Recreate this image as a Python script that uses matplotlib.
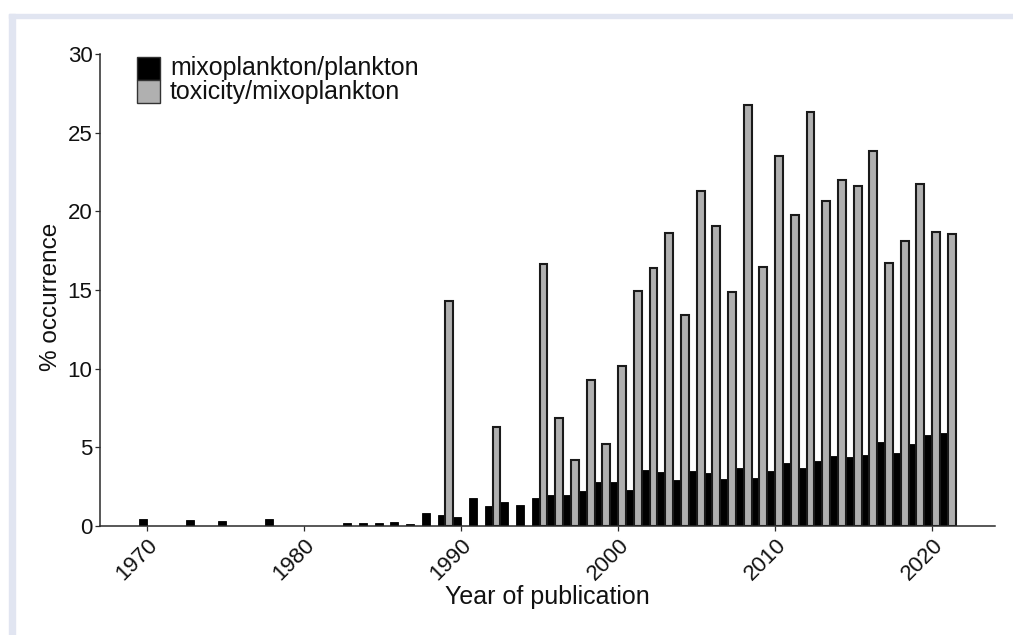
import numpy as np
import matplotlib
matplotlib.use("Agg")
import matplotlib.pyplot as plt
from matplotlib.patches import Rectangle

# ── Data ─────────────────────────────────────────────────────────────────────
years = np.arange(1970, 2022)

mixo_plankton = [
    0.44, 0, 0, 0.36, 0, 0.34, 0, 0, 0.47, 0,          # 1970-1979
    0, 0, 0, 0.16, 0.16, 0.16, 0.25, 0.14, 0.85, 0.72,  # 1980-1989
    0.60, 1.75, 1.30, 1.55, 1.36, 1.81, 1.96, 1.96, 2.23, 2.80,  # 1990-1999
    2.82, 2.30, 3.59, 3.42, 2.92, 3.49, 3.34, 3.00, 3.68, 3.04,  # 2000-2009
    3.47, 4.02, 3.68, 4.10, 4.48, 4.38, 4.50, 5.37, 4.63, 5.24,  # 2010-2019
    5.81, 5.90,                                                  # 2020-2021
]

toxicity_mixo = [
    0, 0, 0, 0, 0, 0, 0, 0, 0, 0,                                # 1970-1979
    0, 0, 0, 0, 0, 0, 0, 0, 0, 14.33,                            # 1980-1989
    0, 0, 6.28, 0, 0, 16.68, 6.85, 4.18, 9.28, 5.20,             # 1990-1999
    10.15, 14.96, 16.38, 18.60, 13.42, 21.28, 19.09, 14.85, 26.74, 16.45,  # 2000-2009
    23.53, 19.74, 26.29, 20.63, 21.96, 21.60, 23.84, 16.70, 18.14, 21.71,  # 2010-2019
    18.66, 18.56,                                                          # 2020-2021
]

x_ticks = [1970, 1980, 1990, 2000, 2010, 2020]
y_ticks = [0, 5, 10, 15, 20, 25, 30]

# ── Style ────────────────────────────────────────────────────────────────────
plt.rcParams["font.family"] = ["Liberation Sans", "DejaVu Sans"]
axis_col = "#2a2a2a"
gray_col = "#b0b0b0"
W, H = 1013, 635

fig = plt.figure(figsize=(W / 100, H / 100), dpi=100)
fig.patch.set_facecolor("white")

# light page frame (top and left strips)
frame_col = "#e1e5f1"
fig.patches.append(Rectangle((9 / W, 0), 6 / W, (H - 14) / H,
                             transform=fig.transFigure, color=frame_col, zorder=0))
fig.patches.append(Rectangle((9 / W, (H - 18) / H), 1, 4 / H,
                             transform=fig.transFigure, color=frame_col, zorder=0))

ax = fig.add_axes([100 / W, (H - 526) / H, 895 / W, (526 - 54) / H])
ax.set_facecolor("none")

# years without a value get no bar at all
mixo_h = np.where(np.array(mixo_plankton) > 0, mixo_plankton, np.nan)
tox_h = np.where(np.array(toxicity_mixo) > 0, toxicity_mixo, np.nan)

w = 0.5
ax.bar(years - w / 2, mixo_h, width=w, color="black",
       edgecolor="black", linewidth=0.6)
ax.bar(years + w / 2, tox_h, width=w, color=gray_col,
       edgecolor="#1a1a1a", linewidth=1.5)

ax.set_xlim(1967, 2024)
ax.set_ylim(0, 30)
ax.set_xticks(x_ticks)
ax.set_yticks(y_ticks)
ax.set_xticklabels([str(t) for t in x_ticks], rotation=45, ha="right",
                   va="top", rotation_mode="anchor")

for s in ["top", "right"]:
    ax.spines[s].set_visible(False)
for s in ["left", "bottom"]:
    ax.spines[s].set_color(axis_col)
    ax.spines[s].set_linewidth(1.1)
ax.tick_params(axis="both", colors=axis_col, length=3.5, width=0.9,
               labelsize=16, labelcolor="#111111")
ax.tick_params(axis="x", pad=3)
ax.tick_params(axis="y", pad=2)

ax.set_xlabel("Year of publication", fontsize=18, color="#111111", va="top")
ax.xaxis.set_label_coords(0.5, -0.125)
ax.set_ylabel("% occurrence", fontsize=17.5, color="#111111")
ax.yaxis.set_label_coords(-0.042, 0.485)

# legend: two stacked squares with labels
sq_w, sq_h = 23 / 895, 23 / 472
leg_x = 37 / 895
rows = [("mixoplankton/plankton", "black", 0.945),
        ("toxicity/mixoplankton", gray_col, 0.896)]
for label, col, y0 in rows:
    ax.add_patch(Rectangle((leg_x, y0), sq_w, sq_h, transform=ax.transAxes,
                           facecolor=col, edgecolor="#333333", linewidth=1.0,
                           clip_on=False))
    ax.text(70 / 895, y0 + sq_h / 2, label, transform=ax.transAxes,
            fontsize=18, va="center", ha="left", color="#111111")

fig.savefig("out.png", dpi=100, facecolor=fig.get_facecolor())
